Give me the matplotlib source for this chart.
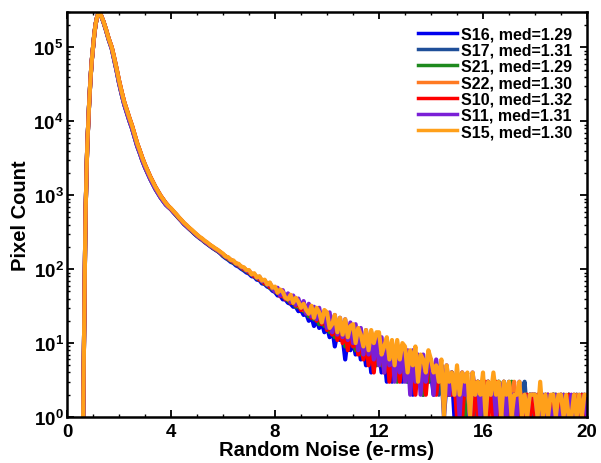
import numpy as np
import matplotlib
matplotlib.use("Agg")
import matplotlib.pyplot as plt
from matplotlib.ticker import MultipleLocator, LogLocator, NullFormatter

plt.rcParams['font.family'] = ['Liberation Sans', 'DejaVu Sans']
plt.rcParams['font.weight'] = 'bold'
plt.rcParams['mathtext.fontset'] = 'custom'
plt.rcParams['mathtext.rm'] = 'Liberation Sans:bold'
plt.rcParams['mathtext.it'] = 'Liberation Sans:bold'
plt.rcParams['mathtext.bf'] = 'Liberation Sans:bold'

labels = ["S16, med=1.29", "S17, med=1.31", "S21, med=1.29", "S22, med=1.30",
          "S10, med=1.32", "S11, med=1.31", "S15, med=1.30"]
colors = ["#0000ee", "#1f4f99", "#1e8a1e", "#ff7a22", "#ff0000", "#7a1fd6", "#ffa01a"]

# Peak region (shared shape), noise values in e-rms
core_x = [0.62, 0.64, 0.66, 0.68, 0.70, 0.72, 0.75, 0.78, 0.81, 0.85, 0.90, 0.95,
          1.00, 1.05, 1.10, 1.15, 1.20, 1.23, 1.30, 1.40, 1.50, 1.60, 1.72, 1.80,
          1.90, 2.00, 2.10, 2.20, 2.30, 2.40, 2.50, 2.60, 2.70, 2.80, 2.90, 3.00,
          3.20, 3.40, 3.60, 3.80, 3.90]
core_main = [1, 4, 20, 80, 260, 700, 2000, 4800, 8500, 17000, 36000, 65000,
             100000, 150000, 205000, 250000, 282000, 290000, 275000, 224000, 174000,
             132000, 100000, 76000, 52500, 35500, 25100, 18200, 14100, 11000, 8700,
             6600, 5000, 4000, 3160, 2570, 1780, 1290, 980, 780, 710]
core_low = [1, 4, 20, 80, 260, 700, 2000, 4800, 8500, 17000, 36000, 65000,
            100000, 150000, 205000, 250000, 282000, 290000, 273000, 220000, 170000,
            128000, 96000, 72000, 49500, 33000, 23300, 16900, 13000, 10100, 8000,
            6050, 4600, 3700, 2920, 2380, 1660, 1210, 930, 745, 690]

# Tail region: bins 4.0 .. 20.0 in steps of 0.1
tail_x = np.round(np.linspace(4.0, 20.0, 161), 1)

s16 = [640,582,534,485,446,405,377,349,325,300,
       280,262,248,231,218,205,193,183,174,163,
       150,141,134,125,121,112,108,101,96,90,
       87,80,79,72,71,64,63,58,56,51,
       49,44,44,39,39,35,34,31,31,27,
       28,24,25,20,23,17,21,16,19,14,
       17,12,16,9,14,11,12,6,12,8,
       11,7,10,6,9,5,9,4,8,6,
       8,4,7,3,7,3,6,4,5,3,
       5,3,5,2,5,3,4,2,4,3,
       4,2,4,3,4,1,3,2,4,1,
       3,1,3,2,1,2,3,1,2,1,
       2,1,2,1,3,1,2,1,2,1,
       2,1,2,1,1,2,1,1,2,1,
       1,2,1,1,2,1,1,2,1,1,
       2,1,1,2,1,1,2,1,1,2,
       1]
s17 = [648,590,541,494,450,412,382,355,330,306,
       284,267,251,236,221,209,196,187,176,167,
       154,146,137,131,124,118,111,106,100,95,
       90,85,81,77,73,69,65,62,58,55,
       51,48,45,43,41,39,37,35,33,31,
       31,27,28,24,26,22,24,20,22,18,
       20,15,18,13,16,12,15,11,14,10,
       13,9,12,8,11,7,10,7,10,6,
       9,6,8,5,8,4,7,5,7,4,
       7,4,6,3,6,4,5,3,5,3,
       5,3,5,2,4,3,4,2,4,2,
       4,2,3,2,3,2,3,1,3,2,
       3,2,3,1,2,2,3,1,2,2,
       3,1,2,1,2,2,3,1,2,1,
       2,1,2,2,1,2,1,2,1,1,
       2,1,1,2,1,2,1,1,2,1,
       1]
s21 = [645,588,538,491,449,410,380,353,328,304,
       282,266,249,234,220,207,195,185,175,165,
       152,145,136,130,122,117,110,105,98,94,
       89,84,80,75,72,68,63,61,56,54,
       50,48,44,43,40,38,35,35,31,31,
       29,27,26,23,24,21,22,18,21,17,
       18,14,17,12,15,12,14,9,13,10,
       12,8,11,7,10,8,10,6,9,5,
       9,5,8,5,7,4,7,3,6,4,
       6,3,6,4,5,3,5,2,5,3,
       5,3,4,3,5,2,4,2,4,2,
       4,2,3,1,3,2,3,2,3,1,
       3,2,3,2,3,1,3,2,3,1,
       2,3,2,1,2,1,2,1,2,2,
       2,1,2,1,2,1,1,2,2,1,
       1,2,1,2,1,1,2,1,2,1,
       1]
s22 = [655,598,547,500,456,417,388,359,334,310,
       288,270,255,238,225,211,200,189,180,169,
       157,149,140,133,127,120,114,108,102,97,
       93,86,84,77,76,69,68,62,61,55,
       54,48,48,43,44,39,40,35,36,32,
       33,28,30,25,27,23,25,21,23,19,
       21,16,19,14,17,13,16,12,15,11,
       14,10,13,9,12,8,11,8,11,7,
       10,6,9,6,8,5,8,5,7,5,
       7,4,6,4,6,4,6,3,5,4,
       5,3,5,3,4,2,4,3,4,2,
       4,2,4,2,3,1,3,2,3,2,
       3,2,3,1,3,2,2,1,3,2,
       2,2,3,1,2,1,2,2,1,2,
       2,1,2,1,2,2,1,1,2,1,
       1,2,1,1,2,1,2,1,1,2,
       1]
s10 = [652,596,545,498,455,415,386,358,333,309,
       287,269,254,238,223,211,198,188,178,168,
       156,148,139,133,125,120,112,108,100,97,
       90,87,80,79,72,71,64,64,57,58,
       50,52,43,47,39,43,35,39,32,35,
       28,31,25,29,22,27,20,25,18,23,
       15,20,13,18,11,17,10,16,8,15,
       9,13,7,12,6,12,5,11,4,10,
       6,9,4,9,3,8,4,7,3,7,
       4,6,3,6,2,5,3,5,2,5,
       4,5,2,4,3,4,2,3,2,3,
       1,3,1,3,2,2,1,3,1,2,
       2,3,1,2,1,3,1,2,2,1,
       2,1,2,2,1,2,1,2,1,2,
       1,2,2,1,1,2,1,2,1,1,
       2,1,1,2,1,2,1,1,2,1,
       1]
s11 = [650,593,544,496,452,414,385,356,332,307,
       285,268,252,237,222,210,197,188,177,167,
       158,147,142,132,128,118,115,106,104,95,
       95,85,86,76,79,68,71,61,65,55,
       50,56,44,52,40,47,36,44,33,40,
       30,37,25,34,23,31,21,30,19,27,
       16,26,14,24,13,22,12,21,11,19,
       10,18,8,16,7,15,7,14,6,13,
       5,12,4,11,5,10,3,9,4,9,
       3,8,2,8,3,7,2,7,3,6,
       6,2,6,3,5,2,5,2,4,2,
       4,1,4,2,3,1,4,2,3,1,
       3,1,3,2,3,1,2,2,3,1,
       2,2,2,1,3,1,2,1,2,2,
       2,1,1,2,1,2,1,1,2,1,
       1,2,1,1,2,1,1,2,1,2,
       1]
s15 = [665,606,556,503,463,422,394,363,340,314,
       293,273,259,241,229,213,203,191,182,171,
       162,148,145,133,131,119,118,108,106,97,
       97,85,88,77,80,70,72,62,66,56,
       58,48,53,49,41,39,45,35,41,36,
       30,34,28,25,32,22,30,26,19,28,
       26,16,18,24,14,22,13,21,12,17,
       18,10,16,13,9,15,8,15,10,14,
       14,7,9,12,6,11,5,11,6,10,
       9,4,8,5,9,3,7,6,4,8,
       6,4,5,3,6,1,5,3,4,2,
       5,2,4,3,4,1,4,2,3,2,
       4,1,3,2,4,2,3,1,3,2,
       3,1,2,2,3,1,2,1,2,2,
       2,1,3,1,2,1,2,2,1,2,
       2,1,2,1,1,2,1,2,1,2,
       2]

tails = [s16, s17, s21, s22, s10, s11, s15]
cores = [core_low, core_main, core_low, core_main, core_main, core_low, core_main]

fig = plt.figure(figsize=(6.01, 4.64), dpi=100)
ax = fig.add_axes([0.1115, 0.0991, 0.8652, 0.8729])

for lab, col, core, tail in zip(labels, colors, cores, tails):
    xs = np.concatenate([core_x, tail_x])
    ys = np.concatenate([core, tail]).astype(float)
    ax.plot(xs, ys, color=col, lw=3.0, label=lab)

ax.set_yscale('log')
ax.set_xlim(0, 20)
ax.set_ylim(1, 3.0e5)
ax.xaxis.set_major_locator(MultipleLocator(4))
ax.xaxis.set_minor_locator(MultipleLocator(1))
ax.yaxis.set_major_locator(LogLocator(base=10, numticks=10))
ax.yaxis.set_minor_locator(LogLocator(base=10, subs=np.arange(2, 10), numticks=20))
ax.yaxis.set_minor_formatter(NullFormatter())
ax.tick_params(which='both', direction='in', top=True, right=True)
ax.tick_params(which='major', length=5, width=1.3, labelsize=13.5, pad=4)
ax.tick_params(axis='y', which='major', pad=2.5)
ax.tick_params(which='minor', length=2.5, width=1.0)
for s in ax.spines.values():
    s.set_linewidth(1.8)

ax.set_xlabel('Random Noise (e-rms)', fontsize=14.5, fontweight='bold', labelpad=0)
ax.set_ylabel('Pixel Count', fontsize=14.5, fontweight='bold', labelpad=2)

leg = ax.legend(loc='upper right', frameon=False, fontsize=11.5, handlelength=2.4,
                handletextpad=0.3, labelspacing=0.08, borderaxespad=0.5)
for t in leg.get_texts():
    t.set_fontweight('bold')
for h in leg.get_lines():
    h.set_linewidth(2.5)

fig.savefig('out.png', dpi=100)
